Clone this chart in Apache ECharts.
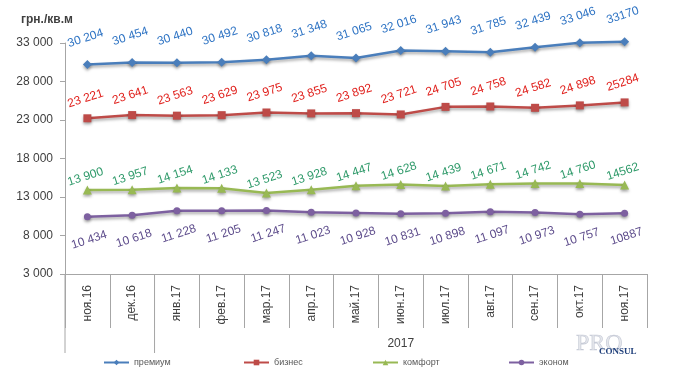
<!DOCTYPE html>
<html><head><meta charset="utf-8">
<script src="https://cdn.jsdelivr.net/npm/echarts@6/dist/echarts.min.js"></script>
<style>html,body{margin:0;padding:0;background:#fff}#c{width:686px;height:386px}</style>
</head><body><div id="c"></div>
<script>
const categories = ['ноя.16','дек.16','янв.17','фев.17','мар.17','апр.17','май.17','июн.17','июл.17','авг.17','сен.17','окт.17','ноя.17'];
const groupLabel = '2017';
const groupStartIndex = 2;
const seriesNames = ['премиум','бизнес','комфорт','эконом'];
const premium = [30204,30454,30440,30492,30818,31348,31065,32016,31943,31785,32439,33046,33170];
const business = [23221,23641,23563,23629,23975,23855,23892,23721,24705,24758,24582,24898,25284];
const comfort = [13900,13957,14154,14133,13523,13928,14447,14628,14439,14671,14742,14760,14562];
const economy = [10434,10618,11228,11205,11247,11023,10928,10831,10898,11097,10973,10757,10887];
const yMin = 3000, yMax = 33000, yStep = 5000;
const unitTitle = 'грн./кв.м';

const FONT = "'Liberation Sans', Arial, sans-serif";
function spaced(n){ return String(n).replace(/\B(?=(\d{3})+(?!\d))/g,' '); }
function labelFmt(p){ return p.dataIndex === categories.length-1 ? String(p.value) : spaced(p.value); }

function mkSeries(name, data, lineColor, labelColor, symbol, pos, dist, symSize){
  return {
    name, type:'line', data, symbol, symbolSize: symSize, clip:false,
    itemStyle:{color: lineColor, shadowColor:'rgba(0,0,0,0.35)', shadowBlur:3, shadowOffsetY:2},
    lineStyle:{color: lineColor, width:2.5, shadowColor:'rgba(0,0,0,0.35)', shadowBlur:3, shadowOffsetY:2},
    label:{show:true, position: pos, distance: dist, rotate: 18, formatter: labelFmt,
      color: labelColor, fontSize: 12, fontFamily: FONT},
    emphasis:{disabled:true}, animation:false
  };
}

const legendLeft = [98, 238, 367, 503];
const legendColors = ['#4a7ebb','#be4b48','#98b954','#7d60a0'];

const chart = echarts.init(document.getElementById('c'));
const option = {
  animation:false,
  grid:{left:65, right:39, top:43, bottom:112, containLabel:false},
  title:{text: unitTitle, left:16, top:9, textStyle:{fontSize:12, fontWeight:'bold', color:'#404040', fontFamily: FONT}},
  legend: seriesNames.map((n,i) => ({
    bottom:14, left: legendLeft[i], itemWidth:25, itemHeight:7, data:[n],
    textStyle:{fontSize:9, color:'#595959', fontFamily: FONT}
  })),
  xAxis:{type:'category', data: categories, boundaryGap:true,
    axisLine:{lineStyle:{color:'#a6a6a6', width:1}},
    axisTick:{show:true, interval:0, length:54, lineStyle:{color:'#a6a6a6'}},
    axisLabel:{rotate:90, interval:0, margin:11, fontSize:12, color:'#404040', fontFamily: FONT}},
  yAxis:{type:'value', min:yMin, max:yMax, interval:yStep,
    splitLine:{show:false},
    axisLine:{show:true, lineStyle:{color:'#a6a6a6'}},
    axisTick:{show:true, length:5, lineStyle:{color:'#a6a6a6'}},
    axisLabel:{fontSize:12, color:'#404040', fontFamily: FONT, margin:12, formatter: v => spaced(v)}},
  series:[
    mkSeries(seriesNames[0], premium, legendColors[0], '#2f74c4', 'diamond', 'top', 16, 9),
    mkSeries(seriesNames[1], business, legendColors[1], '#e0201c', 'rect', 'top', 10, 8),
    mkSeries(seriesNames[2], comfort, legendColors[2], '#2f9a6a', 'triangle', 'top', 3, 9),
    mkSeries(seriesNames[3], economy, legendColors[3], '#5e4d8c', 'circle', 'bottom', 14, 7)
  ]
};
chart.setOption(option);

// group separators and group label using the axis scale
const x0 = chart.convertToPixel({xAxisIndex:0}, 0);
const x1 = chart.convertToPixel({xAxisIndex:0}, 1);
const band = x1 - x0;
const xLast = chart.convertToPixel({xAxisIndex:0}, categories.length-1);
const yBase = chart.convertToPixel({yAxisIndex:0}, yMin);
const bStart = x0 - band/2;
const bGroup = chart.convertToPixel({xAxisIndex:0}, groupStartIndex) - band/2;
const bEnd = xLast + band/2;
chart.setOption({graphic:[
  {type:'line', shape:{x1:bStart, y1:yBase, x2:bStart, y2:yBase+79}, style:{stroke:'#a6a6a6', lineWidth:1}, silent:true},
  {type:'line', shape:{x1:bGroup, y1:yBase, x2:bGroup, y2:yBase+79}, style:{stroke:'#a6a6a6', lineWidth:1}, silent:true},
  {type:'text', x:(bGroup+bEnd)/2, y:yBase+70, style:{text:groupLabel, fontSize:12, fill:'#404040', fontFamily:FONT, align:'center', verticalAlign:'middle'}, silent:true},
  {type:'text', x:576, y:344, style:{text:'PRO', fontSize:24, fill:'rgba(150,160,180,0.25)', stroke:'rgba(120,130,160,0.4)', lineWidth:0.6, fontFamily:"'Liberation Serif', serif", align:'left', verticalAlign:'middle'}, silent:true},
  {type:'text', x:599, y:352, style:{text:'CONSUL', fontSize:9, fontWeight:'bold', fill:'#1f3f7a', fontFamily:"'Liberation Serif', serif", align:'left', verticalAlign:'middle'}, silent:true}
]});
</script></body></html>
